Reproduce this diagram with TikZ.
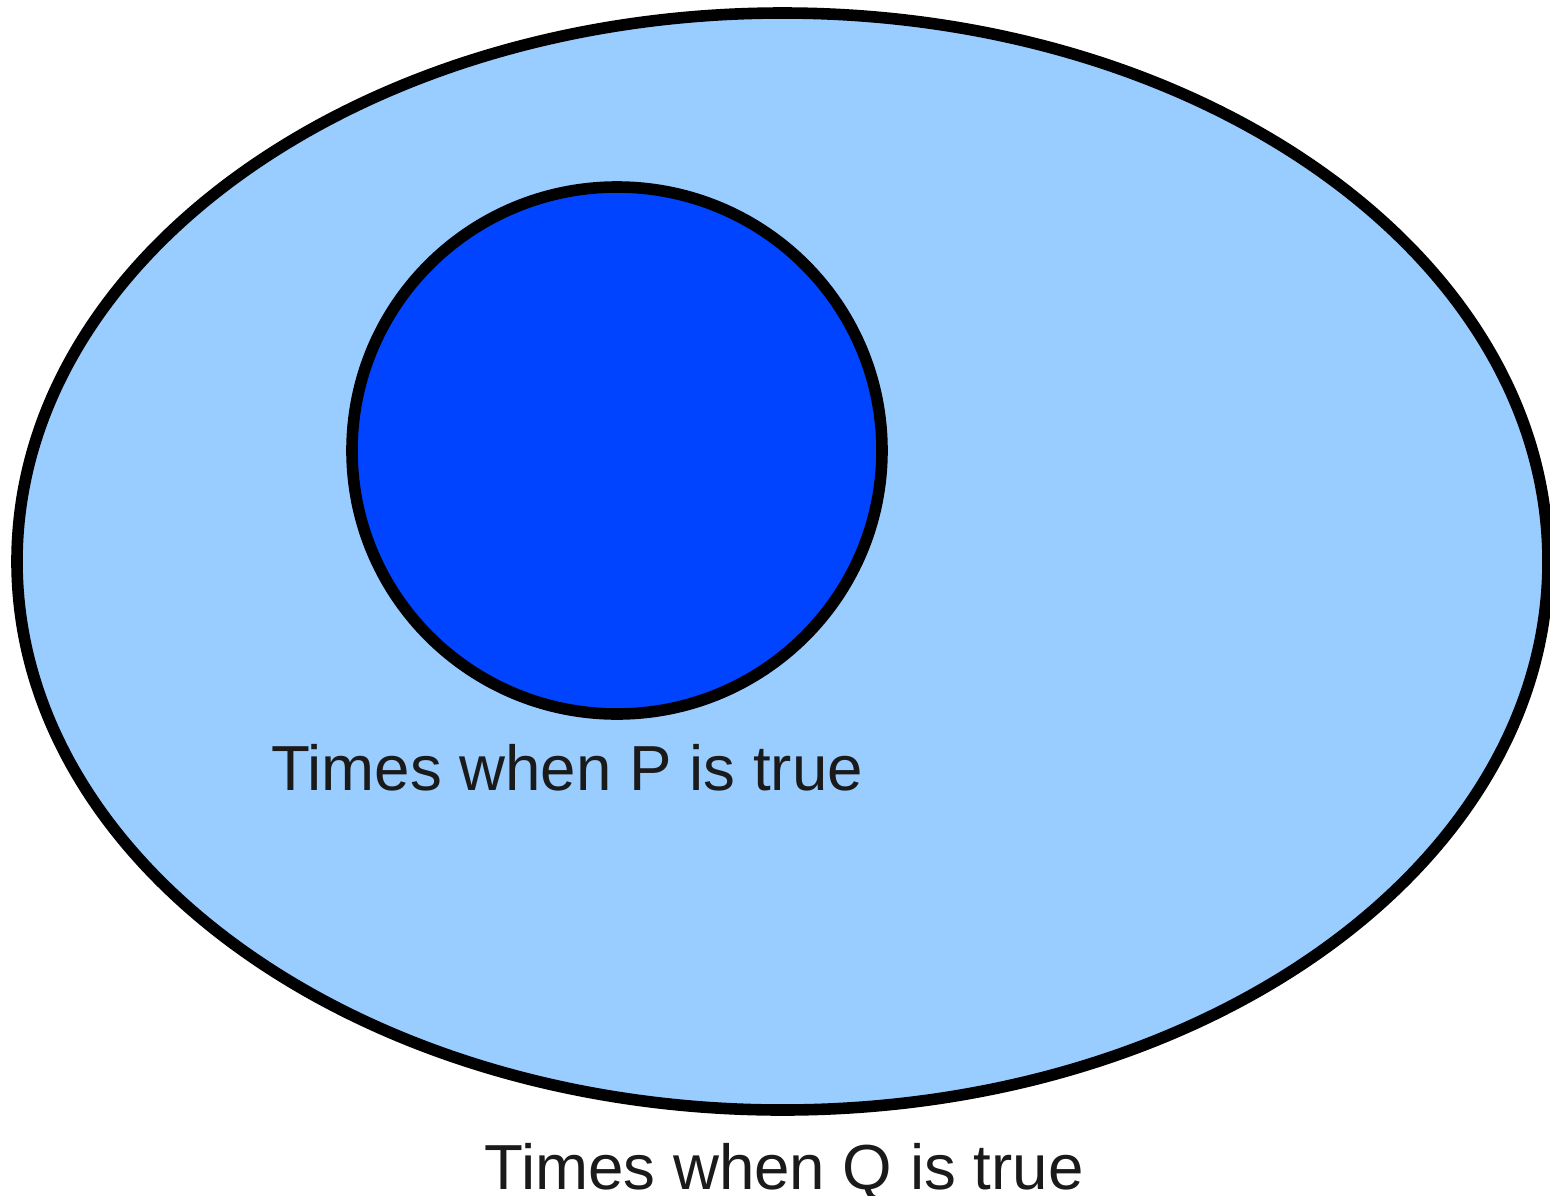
\documentclass[tikz,border=0pt]{standalone}
\usepackage{fontspec}
\setmainfont{Liberation Sans}
\definecolor{qblue}{HTML}{99CCFF}
\definecolor{pblue}{HTML}{0044FF}
\definecolor{labelgray}{HTML}{1A1A1A}
\begin{document}
\begin{tikzpicture}[x=0.01cm, y=-0.01cm,
    region/.style={draw=black, line width=3.3pt},
    regionlabel/.style={anchor=base, inner sep=0pt, text=labelgray, font=\fontsize{18.1}{21}\selectfont}]
  \useasboundingbox (0,0) rectangle (1550,1196);
  % verzameling Q
  \filldraw[region, fill=qblue] (782.5,561.5) ellipse [x radius=765.5, y radius=548.5];
  % verzameling P
  \filldraw[region, fill=pblue] (617,450.5) ellipse [x radius=265, y radius=263.5];
  % labels
  \node[regionlabel] (plabel) at (567,790) {Times when P is true};
  \node[regionlabel] (qlabel) at (784,1189) {Times when Q is true};
\end{tikzpicture}
\end{document}
